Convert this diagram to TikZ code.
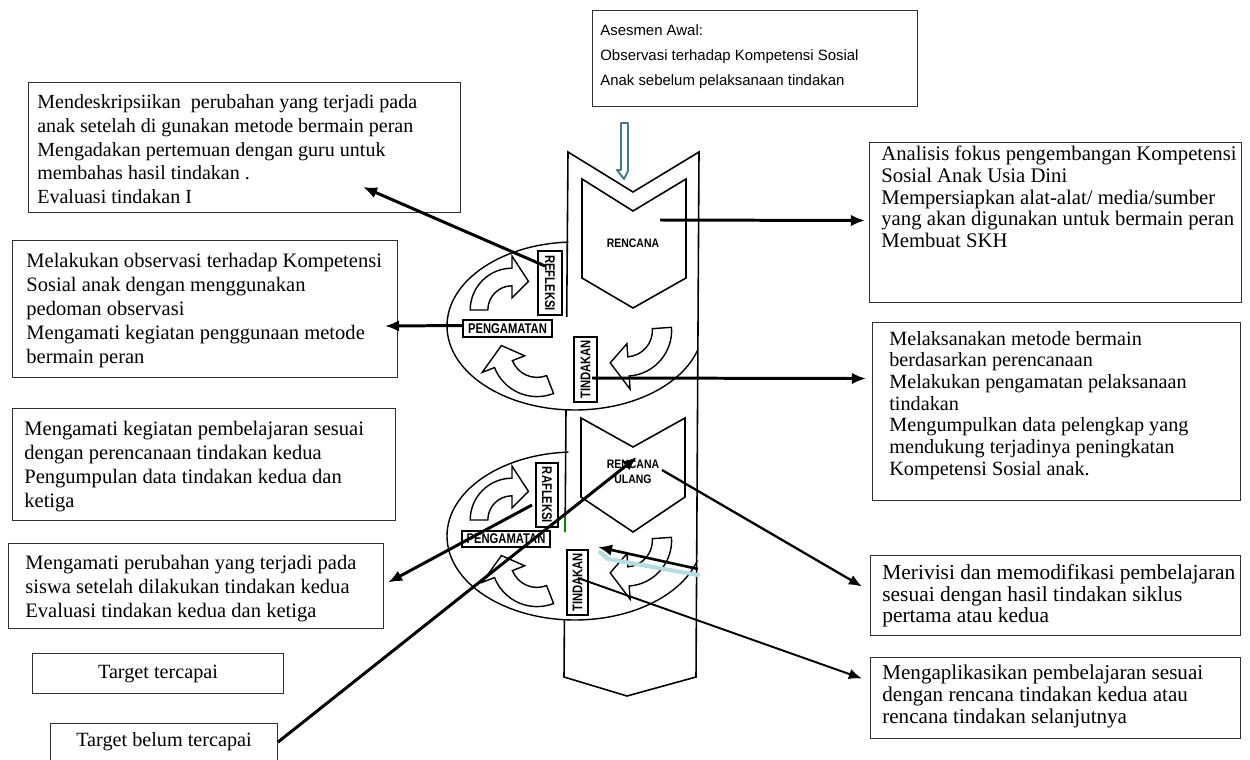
\documentclass[tikz,border=0pt]{standalone}
\usepackage{fontspec}
\setmainfont{Liberation Serif}
\setsansfont{Liberation Sans}
\usepackage{graphicx}
\usetikzlibrary{arrows.meta,calc}
\definecolor{teal1}{HTML}{3C7C8C}
\definecolor{paleblue}{HTML}{B3DDE2}
\definecolor{edge}{HTML}{303030}
\newcommand\lbltext[1]{\scalebox{0.8}[1]{\fontsize{8}{8}\selectfont\sffamily\bfseries #1}}
\newcommand\chevtext[1]{\scalebox{0.85}[1]{#1}}
\begin{document}
\begin{tikzpicture}[x=0.02cm,y=-0.02cm,
  box/.style={draw=edge, line width=0.6pt, fill=white, inner sep=0pt, anchor=north west},
  bx/.style 2 args={minimum width=#1*0.02cm, minimum height=#2*0.02cm},
  txt/.style={inner sep=0pt, anchor=north west, align=left, font=\fontsize{11.7}{13.6}\selectfont},
  rtxt/.style={inner sep=0pt, anchor=north west, align=left, font=\fontsize{11.8}{12.3}\selectfont},
  toptxt/.style={inner sep=0pt, anchor=north west, align=left, font=\fontsize{8.5}{14.2}\selectfont\sffamily},
  colline/.style={line width=0.9pt, black},
  ellline/.style={line width=0.8pt, black},
  lblbox/.style={draw, line width=0.9pt, fill=white, inner sep=0pt},
  blockarrow/.style={draw, line width=0.8pt, fill=white, line join=miter},
  conn/.style={line width=1.7pt, -{Latex[length=8pt,width=6.5pt]}},
  connm/.style={line width=1.3pt, -{Latex[length=7.5pt,width=6pt]}},
  curvarrow/.pic={
    \draw[blockarrow] (165:38) arc[start angle=165, end angle=255, radius=38]
      -- (255:49) -- (285:30) -- (255:11) -- (255:22)
      arc[start angle=255, end angle=165, radius=22] -- cycle;
  },
]
\useasboundingbox (0,0) rectangle (1250,760);

% ellipses (visible parts)
\draw[ellline] (568.3,242.1) arc[start angle=267, end angle=17, x radius=128, y radius=84];
\draw[ellline] (568.3,452.1) arc[start angle=267, end angle=17, x radius=128, y radius=84];

% column outline
\draw[colline, line join=miter] (564.4,619.7) -- (564,677) -- (627,696) -- (696,677) -- (699,152) -- (633,192) -- (568,152) -- (566.7,317);
\draw[colline] (566,409.8) -- (565.1,532);
\draw[green!55!black, line width=0.8pt] (565.2,514) -- (565.1,532);

% inner chevrons
\draw[colline, line join=miter] (582,179) -- (633,211) -- (686,179) -- (686,278) -- (633,308) -- (582,278) -- cycle;
\draw[colline, line join=miter] (581,418) -- (633,447) -- (685,418) -- (685,497) -- (633,532) -- (581,497) -- cycle;
\node (ren) at (633,243) {\chevtext{\fontsize{7}{7}\selectfont\sffamily\bfseries RENCANA}};
\node[align=center, inner sep=0pt, font=\fontsize{7}{8.5}\selectfont\sffamily\bfseries] (ru) at (633,472) {\chevtext{RENCANA}\\\chevtext{ULANG}};

% curved block arrows
\pic[rotate=-15, scale=1.1] at (512,310) {curvarrow};
\pic[rotate=96.3, scale=1.2] at (537,351) {curvarrow};
\pic[rotate=169, scale=1.2] at (626,330.5) {curvarrow};
\pic[rotate=-15, scale=1.1] at (512,520) {curvarrow};
\pic[rotate=96.3, scale=1.2] at (537,561) {curvarrow};
\pic[rotate=169, scale=1.2] at (626,540.5) {curvarrow};

% cycle labels
\node[lblbox, bx={64}{24}, rotate=-90] (refl1) at (550,283) {\lbltext{REFLEKSI}};
\node[lblbox, bx={89}{17}] (png1) at (507.5,328.5) {\lbltext{PENGAMATAN}};
\node[lblbox, bx={65}{23}, rotate=90] (tin1) at (585.5,369.5) {\lbltext{TINDAKAN}};
\node[lblbox, bx={64}{22}, rotate=-90] (raf2) at (547,495) {\lbltext{RAFLEKSI}};
\node[lblbox, bx={88}{16}] (png2) at (506,539) {\lbltext{PENGAMATAN}};
\node[lblbox, bx={65}{21}, rotate=90] (tin2) at (577.5,582.5) {\lbltext{TINDAKAN}};

% top hollow arrow
\draw[teal1, line width=1.1pt, fill=white, line join=round] (621,123) -- (628,123) -- (628,171) -- (624,179) -- (617,170) -- (621,170) -- cycle;

% boxes
\node[box, bx={325}{96}] (top) at (592,10) {};
\node[toptxt] (topt) at (600,24.5) {Asesmen Awal:\\Observasi terhadap Kompetensi Sosial\\Anak sebelum pelaksanaan tindakan};

\node[box, bx={432}{130}] (b1) at (28,82) {};
\node[txt, font=\fontsize{11.4}{13.6}\selectfont] (b1t) at (37,94) {Mendeskripsiikan\ \ perubahan yang terjadi pada\\anak setelah di gunakan metode bermain peran\\Mengadakan pertemuan dengan guru untuk\\membahas hasil tindakan .\\Evaluasi tindakan I};

\node[box, bx={385}{137}] (b2) at (12,240) {};
\node[txt] (b2t) at (26,253) {Melakukan observasi terhadap Kompetensi\\Sosial anak dengan menggunakan\\pedoman observasi\\Mengamati kegiatan penggunaan metode\\bermain peran};

\node[box, bx={383}{112}] (b3) at (12,408) {};
\node[txt] (b3t) at (24,421) {Mengamati kegiatan pembelajaran sesuai\\dengan perencanaan tindakan kedua\\Pengumpulan data tindakan kedua dan\\ketiga};

\node[box, bx={375}{85}] (b4) at (8,543) {};
\node[txt] (b4t) at (25,555) {Mengamati perubahan yang terjadi pada\\siswa setelah dilakukan tindakan kedua\\Evaluasi tindakan kedua dan ketiga};

\node[box, bx={251}{40}, font=\fontsize{11.5}{13}\selectfont] (b5) at (32,653) {Target tercapai};
\node[box, bx={227}{37}, font=\fontsize{11.5}{13}\selectfont] (b6) at (50,723) {Target belum tercapai};

\node[box, bx={372}{160}] (r1) at (869,142) {};
\node[rtxt] (r1t) at (881,146) {Analisis fokus pengembangan Kompetensi\\Sosial Anak Usia Dini\\Mempersiapkan alat-alat/ media/sumber\\yang akan digunakan untuk bermain peran\\Membuat SKH};

\node[box, bx={368}{178}] (r2) at (872,322) {};
\node[rtxt, font=\fontsize{11.5}{12.3}\selectfont] (r2t) at (889,331) {Melaksanakan metode bermain\\berdasarkan perencanaan\\Melakukan pengamatan pelaksanaan\\tindakan\\Mengumpulkan data pelengkap yang\\mendukung terjadinya peningkatan\\Kompetensi Sosial anak.};

\node[box, bx={370}{80}] (r3) at (870,555) {};
\node[rtxt, font=\fontsize{12.2}{12.3}\selectfont] (r3t) at (882,564) {Merivisi dan memodifikasi pembelajaran\\sesuai dengan hasil tindakan siklus\\pertama atau kedua};

\node[box, bx={370}{81}] (r4) at (870,657) {};
\node[rtxt, font=\fontsize{12}{12.3}\selectfont] (r4t) at (882,665) {Mengaplikasikan pembelajaran sesuai\\dengan rencana tindakan kedua atau\\rencana tindakan selanjutnya};

% pale blue stroke
\draw[paleblue, line width=2.3pt, line join=round, line cap=round] (600,552) -- (608,559) -- (698,575);

% connectors
\coordinate (colR) at (698,569);
\draw[conn] ([shift={(-5,-17)}]refl1.center) -- ([shift={(335,105)}]b1.north west);
\draw[conn] ([shift={(0,-3)}]png1.west) -- ([shift={(-13,17)}]b2.east);
\draw[conn] ([shift={(-15,10)}]raf2.center) -- ([shift={(4,-3.5)}]b4.east);
\draw[conn] (b6.east) -- ([shift={(4,-15)}]ru.center);
\draw[conn, line width=1.5pt] (colR) -- ([shift={(20.5,-35.5)}]tin2.center);
\draw[conn] ([shift={(27,-23)}]ren.center) -- ([shift={(-4,-2)}]r1.west);
\draw[conn] ([shift={(6.5,8.5)}]tin1.center) -- ([shift={(-6,-33)}]r2.west);
\draw[connm] ([shift={(29,-2)}]ru.center) -- ([shift={(-8,-9)}]r3.west);
\draw[connm, line width=1.1pt] ([shift={(0.5,-4.5)}]tin2.center) -- ([shift={(-8,-19.5)}]r4.west);
\end{tikzpicture}
\end{document}
